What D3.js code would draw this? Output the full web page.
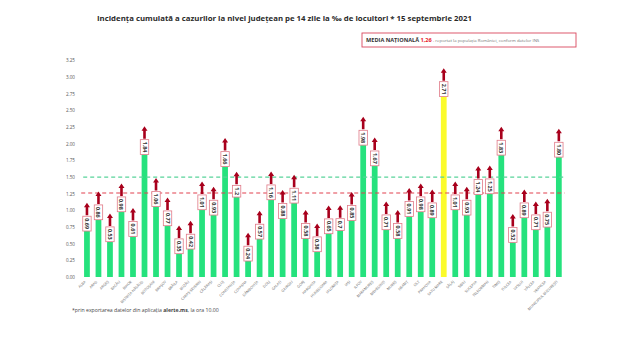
<!DOCTYPE html>
<html>
<head>
<meta charset="utf-8">
<script src="https://cdn.jsdelivr.net/npm/d3@7"></script>
<style>
  body { margin: 0; background: #fff; }
  svg { display: block; }
</style>
</head>
<body>
<svg id="chart" width="620" height="340"></svg>
<script>
// Incidența cumulată pe 14 zile (‰ locuitori), pe județe
const counties = [
  "ALBA", "ARAD", "ARGEȘ", "BACĂU", "BIHOR", "BISTRIȚA-NĂSĂUD", "BOTOȘANI",
  "BRAȘOV", "BRĂILA", "BUZĂU", "CARAȘ-SEVERIN", "CĂLĂRAȘI", "CLUJ", "CONSTANȚA",
  "COVASNA", "DÂMBOVIȚA", "DOLJ", "GALAȚI", "GIURGIU", "GORJ", "HARGHITA",
  "HUNEDOARA", "IALOMIȚA", "IAȘI", "ILFOV", "MARAMUREȘ", "MEHEDINȚI", "MUREȘ",
  "NEAMȚ", "OLT", "PRAHOVA", "SATU MARE", "SĂLAJ", "SIBIU", "SUCEAVA",
  "TELEORMAN", "TIMIȘ", "TULCEA", "VASLUI", "VÂLCEA", "VRANCEA",
  "MUNICIPIUL BUCUREȘTI"
];
// Values as published (text kept so the labels show the same digits)
const incidence = [
  "0.69", "0.86", "0.53", "0.98", "0.61", "1.84", "1.06",
  "0.77", "0.35", "0.42", "1.01", "0.93", "1.66", "1.2",
  "0.24", "0.57", "1.16", "0.88", "1.11", "0.58", "0.38",
  "0.65", "0.7", "0.85", "1.98", "1.67", "0.71", "0.58",
  "0.91", "0.98", "0.89", "2.71", "1.01", "0.93", "1.24",
  "1.25", "1.83", "0.52", "0.89", "0.71", "0.75",
  "1.80"
];
const yTickValues = [0, 0.25, 0.5, 0.75, 1, 1.25, 1.5, 1.75, 2, 2.25, 2.5, 2.75, 3, 3.25];
const nationalAverage = 1.26;
const alertThreshold = 1.5;

const rows = counties.map((name, i) => ({ name, label: incidence[i], value: +incidence[i] }));
const maxValue = d3.max(rows, d => d.value);

const svg = d3.select("#chart");

const x = d3.scaleBand()
  .domain(counties)
  .range([81.2, 564.6])
  .paddingInner(0.5)
  .paddingOuter(0.25);

const y = d3.scaleLinear()
  .domain([0, 3.25])
  .range([277, 60.5]);

// Title
const title = svg.append("text")
  .attr("x", 97)
  .attr("y", 21)
  .attr("font-family", "'Open Sans', sans-serif")
  .attr("font-weight", "bold")
  .attr("font-size", 8)
  .attr("fill", "#2a2a2a")
  .text("Incidența cumulată a cazurilor la nivel județean pe 14 zile la ‰ de locuitori * 15 septembrie 2021");
{
  const w = title.node().getComputedTextLength();
  title.attr("font-size", 8 * 376 / w);
}

// National average box
const avgBox = svg.append("g").attr("transform", "translate(362,33)");
avgBox.append("rect")
  .attr("width", 214).attr("height", 14)
  .attr("fill", "#fff")
  .attr("stroke", "#d9485e")
  .attr("stroke-width", 0.9);
const avgText = avgBox.append("text")
  .attr("x", 4).attr("y", 9.3)
  .attr("font-family", "'Open Sans', sans-serif");
avgText.append("tspan")
  .attr("font-weight", "bold").attr("font-size", 5.6).attr("fill", "#333")
  .text("MEDIA NAȚIONALĂ ");
avgText.append("tspan")
  .attr("font-weight", "bold").attr("font-size", 5.6).attr("fill", "#e8202a")
  .text(d3.format(".2f")(nationalAverage).replace(".", ","));
avgText.append("tspan")
  .attr("font-size", 4.3).attr("fill", "#777")
  .text(" - reportat la populația României, conform datelor INS");

// Y axis labels
const yAxis = svg.append("g")
  .attr("transform", "translate(75,0)")
  .call(d3.axisLeft(y).tickValues(yTickValues).tickFormat(d3.format(".2f")).tickSize(0).tickPadding(0));
yAxis.select(".domain").remove();
yAxis.selectAll("text")
  .attr("font-family", "'Open Sans', sans-serif")
  .attr("font-size", 4.6)
  .attr("fill", "#555");

// Bars
svg.append("g").selectAll("rect")
  .data(rows)
  .join("rect")
  .attr("x", d => x(d.name))
  .attr("y", d => y(d.value))
  .attr("width", x.bandwidth())
  .attr("height", d => y(0) - y(d.value))
  .attr("fill", d => d.value === maxValue ? "#fbfb2a" : "#25e27d");

// Reference lines
const [x0, x1] = x.range();
svg.append("line")
  .attr("x1", x0 + 2).attr("x2", x1)
  .attr("y1", y(alertThreshold)).attr("y2", y(alertThreshold))
  .attr("stroke", "#58d49a").attr("stroke-width", 1.1)
  .attr("stroke-dasharray", "4,3");
svg.append("line")
  .attr("x1", x0).attr("x2", x1)
  .attr("y1", y(nationalAverage)).attr("y2", y(nationalAverage))
  .attr("stroke", "#e2404f").attr("stroke-width", 1.1)
  .attr("stroke-dasharray", "4,3");

// Value labels with arrows
const labels = svg.append("g").selectAll("g")
  .data(rows)
  .join("g")
  .attr("transform", d => `translate(${x(d.name) + x.bandwidth() / 2},${y(d.value)})`);

labels.each(function (d) {
  const g = d3.select(this);
  const box = g.append("rect");
  const t = g.append("text")
    .attr("font-family", "'Open Sans', sans-serif")
    .attr("font-weight", "bold")
    .attr("font-size", 5.4)
    .attr("fill", "#333")
    .attr("text-anchor", "middle")
    .attr("dominant-baseline", "central")
    .text(d.label);
  const len = t.node().getComputedTextLength();
  const h = len + 4;
  const w = 8.4;
  box.attr("x", -w / 2).attr("y", -h)
    .attr("width", w).attr("height", h)
    .attr("fill", "#fff")
    .attr("stroke", "#e07a88")
    .attr("stroke-width", 0.8);
  t.attr("transform", `translate(0,${-h / 2}) rotate(90)`);
  g.append("path")
    .attr("transform", `translate(0,${-h - 1})`)
    .attr("d", "M-1.3,0 L-1.3,-8 L-3,-8 L0,-12.5 L3,-8 L1.3,-8 L1.3,0 Z")
    .attr("fill", "#a8001c");
});

// Category labels
svg.append("g").selectAll("text")
  .data(rows)
  .join("text")
  .attr("transform", d => `translate(${x(d.name) + x.bandwidth() / 2 - 2},281) rotate(-45)`)
  .attr("text-anchor", "end")
  .attr("dominant-baseline", "central")
  .attr("font-family", "'Open Sans', sans-serif")
  .attr("font-size", 3.6)
  .attr("fill", "#666")
  .text(d => d.name);

// Footnote
const note = svg.append("text")
  .attr("x", 72).attr("y", 312)
  .attr("font-family", "'Open Sans', sans-serif")
  .attr("font-size", 5.2)
  .attr("fill", "#444");
note.append("tspan").text("*prin exportarea datelor din aplicația ");
note.append("tspan").attr("font-weight", "bold").text("alerte.ms");
note.append("tspan").text(", la ora 10.00");
</script>
</body>
</html>
